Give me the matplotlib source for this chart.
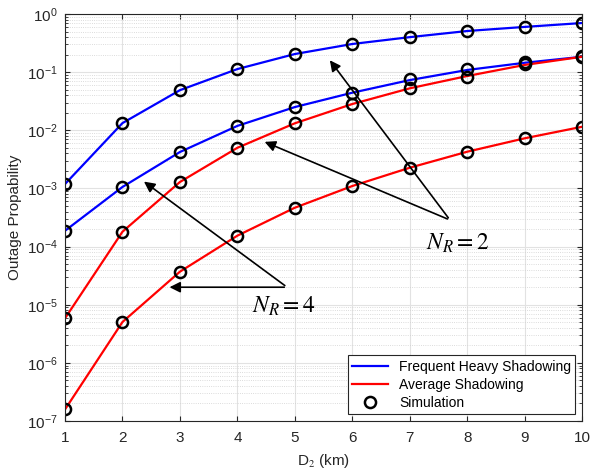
import numpy as np
import matplotlib
matplotlib.use("Agg")
import matplotlib.pyplot as plt
from matplotlib import ticker

plt.rcParams["font.family"] = ["Liberation Sans", "DejaVu Sans"]
plt.rcParams["mathtext.fontset"] = "stix"

# distance D2 (km)
d2 = np.arange(1, 11)
y_ticks = [1e-7, 1e-6, 1e-5, 1e-4, 1e-3, 1e-2, 1e-1, 1e0]

# outage probability
fhs_nr2 = [1.19e-3, 1.33e-2, 4.9e-2, 0.113, 0.205, 0.305, 0.40, 0.51, 0.60, 0.70]
fhs_nr4 = [1.87e-4, 1.06e-3, 4.23e-3, 1.19e-2, 2.51e-2, 4.43e-2, 7.3e-2, 0.109, 0.145, 0.184]
avg_nr2 = [5.83e-6, 1.8e-4, 1.29e-3, 5.0e-3, 1.32e-2, 2.83e-2, 5.27e-2, 8.58e-2, 0.133, 0.184]
avg_nr4 = [1.58e-7, 5.04e-6, 3.7e-5, 1.54e-4, 4.66e-4, 1.1e-3, 2.27e-3, 4.28e-3, 7.28e-3, 1.15e-2]

# simulation points
sim_fhs_nr2 = fhs_nr2
sim_fhs_nr4 = [1.87e-4, 1.06e-3, 4.23e-3, 1.19e-2, 2.51e-2, 4.43e-2, 7.6e-2, 0.113, 0.150, 0.186]
sim_avg_nr2 = [5.83e-6, 1.8e-4, 1.29e-3, 5.0e-3, 1.32e-2, 2.83e-2, 5.27e-2, 8.4e-2, 0.136, 0.182]
sim_avg_nr4 = avg_nr4

fig = plt.figure(figsize=(5.91, 4.75), dpi=100)
ax = fig.add_axes([0.110, 0.1137, 0.875, 0.8568])

lw = 1.6
ax.semilogy(d2, fhs_nr2, color="blue", lw=lw, label="Frequent Heavy Shadowing")
ax.semilogy(d2, fhs_nr4, color="blue", lw=lw)
ax.semilogy(d2, avg_nr2, color="red", lw=lw, label="Average Shadowing")
ax.semilogy(d2, avg_nr4, color="red", lw=lw)

mk = dict(ls="none", marker="o", ms=8, mfc="none", mec="black", mew=1.8)
ax.semilogy(d2, sim_fhs_nr2, label="Simulation", **mk)
for s in (sim_fhs_nr4, sim_avg_nr2, sim_avg_nr4):
    ax.semilogy(d2, s, **mk)

ax.set_xlim(1, 10)
ax.set_ylim(1e-7, 1)
ax.set_xticks(d2)
ax.set_yticks(y_ticks)
ax.yaxis.set_minor_locator(ticker.LogLocator(base=10, subs=np.arange(2, 10), numticks=20))
ax.yaxis.set_minor_formatter(ticker.NullFormatter())

ax.grid(True, which="major", color="#e2e2e2", lw=0.8)
ax.grid(True, which="minor", color="#d0d0d0", lw=0.6, ls=":")
ax.set_axisbelow(True)
ax.tick_params(which="both", direction="in", top=True, right=True, colors="#262626",
               labelsize=11)
ax.tick_params(axis="x", pad=7)
ax.tick_params(axis="y", pad=5)
ax.tick_params(which="minor", length=2.5)
for sp in ax.spines.values():
    sp.set_color("#262626")
    sp.set_linewidth(0.8)

ax.set_xlabel("D$_2$ (km)", fontsize=11, color="#262626", labelpad=5)
ax.set_ylabel("Outage Propability", fontsize=11, color="#262626")

# annotations
arr = dict(arrowstyle="-|>", color="black", lw=1.2, mutation_scale=16)
ax.annotate("", xy=(5.58, 0.175), xytext=(7.70, 2.86e-4), arrowprops=arr)
ax.annotate("", xy=(4.43, 6.6e-3), xytext=(7.70, 2.86e-4), arrowprops=arr)
ax.text(7.84, 1.15e-4, "$N_R = 2$", fontsize=17, ha="center", va="center")

ax.annotate("", xy=(2.77, 2.0e-5), xytext=(4.865, 2.0e-5), arrowprops=arr)
ax.annotate("", xy=(2.335, 1.40e-3), xytext=(4.865, 2.0e-5), arrowprops=arr)
ax.text(4.25, 9.2e-6, "$N_R = 4$", fontsize=17, ha="left", va="center")

leg = ax.legend(loc="lower right", fontsize=10, fancybox=False, framealpha=1,
                edgecolor="#262626", borderaxespad=0.5, handlelength=2.6,
                borderpad=0.3, labelspacing=0.3)
leg.get_frame().set_linewidth(0.8)

fig.savefig("out.png", dpi=100)
